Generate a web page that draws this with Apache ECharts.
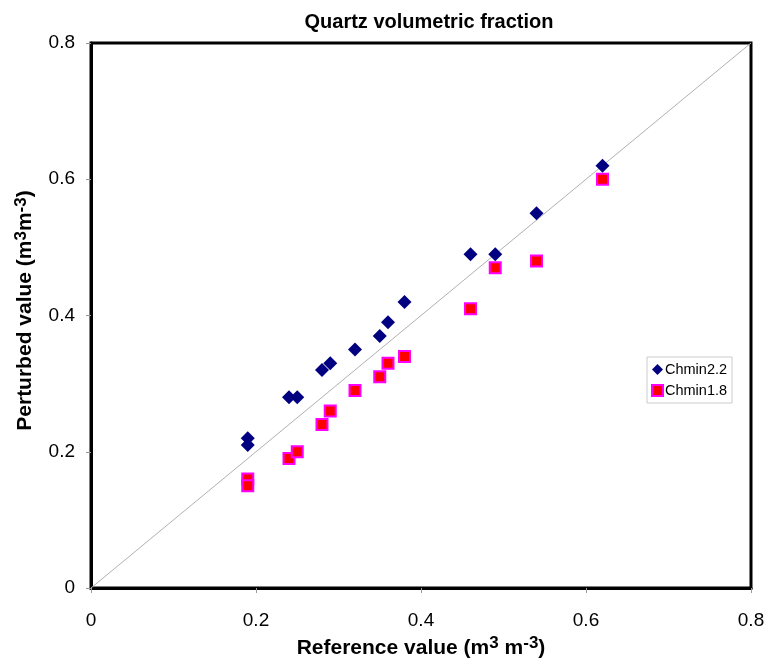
<!DOCTYPE html>
<html>
<head>
<meta charset="utf-8">
<script src="https://cdn.jsdelivr.net/npm/echarts@6/dist/echarts.min.js"></script>
<style>
  html, body { margin: 0; padding: 0; background: #fff; }
  #chart { width: 769px; height: 664px; }
</style>
</head>
<body>
<div id="chart"></div>
<script>
// reference values (x) shared by both series
const refValues = [0.19, 0.19, 0.24, 0.25, 0.28, 0.29, 0.32, 0.35, 0.36, 0.38, 0.46, 0.49, 0.54, 0.62]
const chmin22 = [0.22, 0.21, 0.28, 0.28, 0.32, 0.33, 0.35, 0.37, 0.39, 0.42, 0.49, 0.49, 0.55, 0.62]
const chmin18 = [0.16, 0.15, 0.19, 0.20, 0.24, 0.26, 0.29, 0.31, 0.33, 0.34, 0.41, 0.47, 0.48, 0.60]
const oneToOne = [[0, 0], [0.8, 0.8]]
const tickLabels = ['0', '0.2', '0.4', '0.6', '0.8']

const font = 'Liberation Sans, Arial, sans-serif'
const pair = (xs, ys) => xs.map((x, i) => [x, ys[i]])

const chart = echarts.init(document.getElementById('chart'))

const nameRich = {
  b: { fontFamily: font, fontWeight: 'bold', fontSize: 21, color: '#000', lineHeight: 26 },
  s: { fontFamily: font, fontWeight: 'bold', fontSize: 17, color: '#000', lineHeight: 26, verticalAlign: 'top', padding: [0, 0, 8, 0] }
}

const labelStyle = (margin) => ({
  fontFamily: font,
  fontSize: 19,
  color: '#000',
  margin: margin,
  formatter: (v) => tickLabels[Math.round(v / 0.2)]
})

const axisCommon = {
  type: 'value',
  min: 0,
  max: 0.8,
  interval: 0.2,
  splitLine: { show: false },
  axisLine: { show: true, onZero: false, lineStyle: { color: '#000', width: 3 } },
  axisTick: { show: true, length: 5, lineStyle: { color: '#999', width: 1 } },
  nameLocation: 'middle'
}

chart.setOption({
  animation: false,
  backgroundColor: '#fff',
  title: {
    text: 'Quartz volumetric fraction',
    left: 424,
    top: 7,
    textAlign: 'center',
    textStyle: { fontFamily: font, fontWeight: 'bold', fontSize: 20, color: '#000' }
  },
  grid: {
    left: 91,
    right: 18,
    top: 43,
    bottom: 76,
    outerBoundsMode: 'none',
    containLabel: false,
    show: true,
    borderColor: '#000',
    borderWidth: 3,
    backgroundColor: 'transparent'
  },
  legend: {
    orient: 'vertical',
    left: 647,
    top: 357,
    itemWidth: 11,
    itemHeight: 11,
    itemGap: 6,
    padding: [5, 5, 5, 4],
    borderColor: '#ccc',
    borderWidth: 1,
    textStyle: { fontFamily: font, fontSize: 14.5, color: '#000', padding: [0, 0, 0, -3] },
    data: ['Chmin2.2', 'Chmin1.8']
  },
  xAxis: Object.assign({}, axisCommon, {
    name: '{b|Reference value (m}{s|3}{b| m}{s|-3}{b|)}',
    nameGap: 45,
    nameTextStyle: { fontFamily: font, fontWeight: 'bold', fontSize: 21, color: '#000', rich: nameRich },
    axisLabel: labelStyle(23)
  }),
  yAxis: Object.assign({}, axisCommon, {
    name: '{b|Perturbed value (m}{s|3}{b|m}{s|-3}{b|)}',
    nameGap: 51,
    nameTextStyle: { fontFamily: font, fontWeight: 'bold', fontSize: 21, color: '#000', rich: nameRich, padding: [0, 0, 0, 10] },
    axisLabel: labelStyle(16)
  }),
  series: [
    {
      name: '1:1',
      type: 'line',
      data: oneToOne,
      showSymbol: false,
      silent: true,
      lineStyle: { color: '#b0b0b0', width: 1 },
      z: 1
    },
    {
      name: 'Chmin2.2',
      type: 'scatter',
      data: pair(refValues, chmin22),
      symbol: 'diamond',
      symbolSize: 14,
      itemStyle: { color: '#000080', opacity: 1 },
      z: 3
    },
    {
      name: 'Chmin1.8',
      type: 'scatter',
      data: pair(refValues, chmin18),
      symbol: 'rect',
      symbolSize: 11,
      itemStyle: { color: '#ff0000', borderColor: '#ff00ff', borderWidth: 2, opacity: 1 },
      z: 2
    }
  ]
})
</script>
</body>
</html>
